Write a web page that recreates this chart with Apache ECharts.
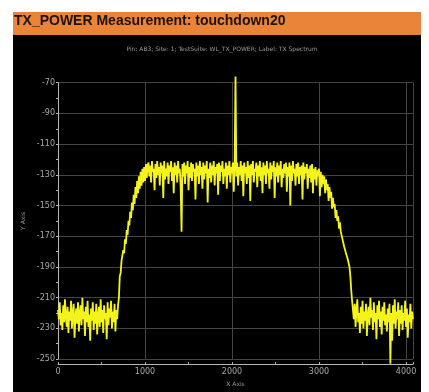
<!DOCTYPE html>
<html><head><meta charset="utf-8">
<script src="https://cdn.jsdelivr.net/npm/echarts@6/dist/echarts.min.js"></script>
<style>html,body{margin:0;padding:0;background:#fff}#c{width:429px;height:392px}</style>
</head><body><div id="c"></div>
<script>
const titleText = 'TX_POWER Measurement: touchdown20';
const subText = 'Pin: AB3; Site: 1; TestSuite: WL_TX_POWER; Label: TX Spectrum';
const xName = 'X Axis';
const yName = 'Y Axis';
const sampleStep = 10; // spacing (X units) between the read-off samples
const xTicks = [0, 1000, 2000, 3000, 4000];
const yTicks = [-70, -90, -110, -130, -150, -170, -190, -210, -230, -250];
// left noise floor (x 0..690)
const floorLeft = [
  -218,-224,-213,-228,-220,-231,-215,-226,-211,-222,
  -229,-216,-233,-219,-225,-212,-230,-221,-214,-236,
  -223,-217,-227,-213,-232,-220,-215,-228,-210,-224,
  -219,-235,-216,-226,-212,-229,-221,-238,-217,-225,
  -213,-231,-219,-227,-214,-234,-222,-216,-229,-211,
  -226,-218,-233,-215,-224,-220,-237,-213,-228,-217,
  -223,-212,-230,-219,-226,-214,-232,-218,-224,-215];
// rising edge (x 700..1030)
const riseEdge = [-210,-196,-194,-186,-187,-179,-181,-172,-175,-166,-169,-160,-163,-154,-158,-148,-153,
  -143,-149,-138,-145,-134,-142,-131,-139,-128,-137,-126,-135,-125,-134,-123,-132,-124];
// plateau (x 1040..3010)
const plateau = [
  -122,-131,-124,-135,-121,-128,-126,-140,-123,-132,
  -121,-130,-125,-137,-122,-129,-124,-145,-121,-133,
  -126,-131,-122,-136,-124,-128,-121,-134,-125,-142,
  -122,-130,-124,-135,-121,-129,-126,-138,-167,-123,
  -131,-122,-136,-124,-129,-121,-140,-125,-132,-122,
  -134,-123,-128,-126,-146,-122,-131,-124,-136,-121,
  -130,-125,-139,-122,-133,-124,-129,-121,-148,-126,
  -132,-122,-135,-124,-130,-121,-137,-125,-129,-123,
  -143,-122,-134,-124,-128,-121,-136,-126,-131,-122,
  -139,-124,-130,-121,-135,-125,-129,-122,-141,-124,
  -66,-131,-122,-137,-125,-130,-121,-134,-124,-144,
  -122,-129,-125,-136,-121,-132,-124,-147,-123,-130,
  -121,-135,-126,-128,-122,-138,-124,-131,-121,-134,
  -125,-142,-122,-130,-124,-136,-121,-129,-126,-139,
  -122,-133,-124,-128,-121,-145,-125,-131,-122,-135,
  -124,-130,-121,-138,-126,-132,-123,-129,-122,-141,
  -125,-131,-122,-150,-124,-134,-121,-129,-126,-137,
  -123,-131,-122,-136,-125,-130,-124,-146,-122,-133,
  -125,-129,-123,-139,-126,-132,-124,-135,-123,-142,
  -126,-133,-125,-137,-127,-131,-126,-144];
// falling edge (x 3020..3390)
const fallEdge = [-128,-138,-130,-136,-131,-142,-133,-140,-136,-147,-138,-145,-141,-152,-145,-151,-149,-158,-153,
  -160,-157,-165,-161,-167,-166,-172,-171,-177,-176,-181,-181,-185,-186,-190,-196,-205,-212,-218];
// right noise floor (x 3400..4080)
const floorRight = [
  -224,-214,-229,-218,-211,-226,-220,-233,-216,-227,
  -212,-230,-219,-225,-214,-235,-221,-216,-228,-210,
  -223,-218,-231,-213,-226,-220,-237,-215,-224,-212,
  -229,-219,-234,-216,-225,-213,-228,-221,-232,-217,
  -226,-214,-253,-220,-238,-215,-227,-211,-230,-219,
  -224,-213,-235,-218,-227,-215,-231,-220,-225,-212,
  -229,-217,-236,-221,-226,-214,-230,-219,-224];

const yValues = floorLeft.concat(riseEdge, plateau, fallEdge, floorRight);
const seriesData = yValues.map((v, i) => [i * sampleStep, v]);

const chart = echarts.init(document.getElementById('c'), null, {renderer: 'canvas'});
const axisGrey = '#b8b8b8';
chart.setOption({
  animation: false,
  backgroundColor: '#ffffff',
  graphic: [
    {type: 'rect', shape: {x: 13, y: 35, width: 408, height: 357}, style: {fill: '#000000'}, z: -10},
    {type: 'rect', shape: {x: 13, y: 12, width: 408, height: 23}, style: {fill: '#ea8438'}, z: -10}
  ],
  title: [
    {text: titleText, left: 14, top: 14, padding: 0,
     textStyle: {fontFamily: 'Liberation Sans', fontWeight: 'bold', fontSize: 14, color: '#1e1208'}},
    {text: subText, left: 222, textAlign: 'center', top: 46, padding: 0,
     textStyle: {fontFamily: 'DejaVu Sans', fontWeight: 'normal', fontSize: 6, color: '#9a9a9a'}}
  ],
  grid: {left: 58, right: 16, top: 82.7, bottom: 32.7, containLabel: false},
  xAxis: {
    type: 'value', min: 0, max: 4080, interval: 1000, offset: 5,
    name: xName, nameLocation: 'middle', nameGap: 15,
    nameTextStyle: {color: '#9a9a9a', fontSize: 6, fontFamily: 'DejaVu Sans'},
    axisLine: {show: true, lineStyle: {color: axisGrey, width: 1}},
    axisTick: {show: true, length: 2, inside: true, lineStyle: {color: axisGrey}},
    minorTick: {show: true, splitNumber: 2, length: 2, lineStyle: {color: axisGrey}},
    axisLabel: {color: '#a8a8a8', fontSize: 8, margin: 4, fontFamily: 'DejaVu Sans',
      formatter: v => xTicks.includes(v) ? String(v) : ''},
    splitLine: {show: true, lineStyle: {color: '#444444', width: 1}}
  },
  yAxis: {
    type: 'value', min: -250, max: -70, interval: 20,
    name: yName, nameLocation: 'middle', nameGap: 28, nameRotate: 90,
    nameTextStyle: {color: '#9a9a9a', fontSize: 6, fontFamily: 'DejaVu Sans'},
    axisLine: {show: true, lineStyle: {color: axisGrey, width: 1}},
    axisTick: {show: true, length: 2, lineStyle: {color: axisGrey}},
    minorTick: {show: true, splitNumber: 2, length: 2, lineStyle: {color: axisGrey}},
    axisLabel: {color: '#a8a8a8', fontSize: 8, margin: 3, fontFamily: 'DejaVu Sans',
      formatter: v => yTicks.includes(v) ? String(v) : ''},
    splitLine: {show: true, lineStyle: {color: '#444444', width: 1}}
  },
  series: [{
    type: 'line', data: seriesData, showSymbol: false, clip: false,
    lineStyle: {color: '#f4f41c', width: 1.8},
    z: 5
  }]
});
</script></body></html>
